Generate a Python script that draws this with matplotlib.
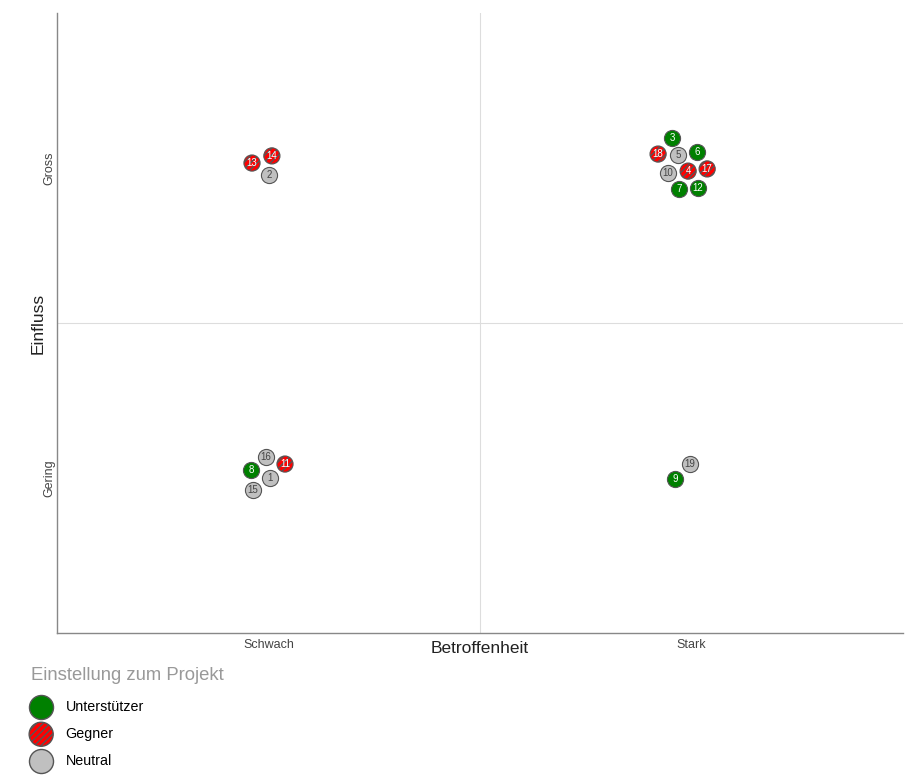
import matplotlib
matplotlib.use("Agg")
import matplotlib.pyplot as plt

plt.rcParams['font.family'] = ['Liberation Sans', 'DejaVu Sans']
plt.rcParams['hatch.color'] = 'black'
plt.rcParams['hatch.linewidth'] = 1.0

# stakeholder data (Betroffenheit: 0..2, Einfluss: 0..2)
ids = [3, 18, 5, 6, 10, 4, 17, 7, 12,
       13, 14, 2,
       16, 11, 8, 1, 15,
       19, 9]
betroffenheit = [1.454, 1.421, 1.468, 1.513, 1.444, 1.492, 1.537, 1.470, 1.515,
                 0.461, 0.508, 0.501,
                 0.494, 0.539, 0.459, 0.504, 0.463,
                 1.497, 1.461]
einfluss = [1.597, 1.545, 1.542, 1.552, 1.484, 1.490, 1.497, 1.432, 1.436,
            1.516, 1.539, 1.477,
            0.568, 0.545, 0.526, 0.500, 0.461,
            0.545, 0.497]
einstellung = ['U', 'G', 'N', 'U', 'N', 'G', 'G', 'U', 'U',
               'G', 'G', 'N',
               'N', 'G', 'U', 'N', 'N',
               'N', 'U']

groups = ['U', 'G', 'N']
group_names = ['Unterstützer', 'Gegner', 'Neutral']
x_ticks = [0.5, 1.5]
x_labels = ['Schwach', 'Stark']
y_labels = ['Gering', 'Gross']

styles = {
    'U': dict(color='#008000', hatch=None, text='white'),
    'G': dict(color='#ff0000', hatch='/////', text='white'),
    'N': dict(color='#c0c0c0', hatch=None, text='#444444'),
}


def main():
    fig = plt.figure(figsize=(9.22, 7.83), dpi=100)
    ax = fig.add_axes([57 / 922, 150 / 783, 846 / 922, 620 / 783])
    ax.set_xlim(0, 2)
    ax.set_ylim(0, 2)

    ax.axvline(1, color='#dddddd', lw=0.8, zorder=0)
    ax.axhline(1, color='#dddddd', lw=0.8, zorder=0)

    for g in groups:
        st = styles[g]
        xs = [x for x, e in zip(betroffenheit, einstellung) if e == g]
        ys = [y for y, e in zip(einfluss, einstellung) if e == g]
        ax.scatter(xs, ys, s=135, facecolor=st['color'], edgecolor='#555555',
                   linewidth=0.8, hatch=st['hatch'], zorder=3)

    for i, x, y, e in zip(ids, betroffenheit, einfluss, einstellung):
        ax.text(x, y, str(i), ha='center', va='center', fontsize=7,
                color=styles[e]['text'], zorder=4)

    for side in ['top', 'right']:
        ax.spines[side].set_visible(False)
    for side in ['left', 'bottom']:
        ax.spines[side].set_color('#888888')
        ax.spines[side].set_linewidth(1.0)

    ax.set_xticks(x_ticks)
    ax.set_xticklabels(x_labels)
    ax.set_yticks(x_ticks)
    ax.set_yticklabels(y_labels, rotation=90, va='center')
    ax.tick_params(length=0, labelsize=9, labelcolor='#444444')
    ax.tick_params(axis='x', pad=4)
    ax.tick_params(axis='y', pad=1)

    ax.set_xlabel('Betroffenheit', fontsize=12.5, color='#222222')
    ax.set_ylabel('Einfluss', fontsize=12.5, color='#222222')
    ax.xaxis.set_label_coords(0.5, -0.013)
    ax.yaxis.set_label_coords(-0.013, 0.5)

    handles = []
    for g in groups:
        st = styles[g]
        handles.append(ax.scatter([], [], s=300, facecolor=st['color'],
                                  edgecolor='#555555', linewidth=1.0,
                                  hatch=st['hatch']))
    leg = fig.legend(handles, group_names, loc='upper left',
                     bbox_to_anchor=(24 / 922, 1 - 660 / 783),
                     frameon=False, fontsize=10.3, title='Einstellung zum Projekt',
                     title_fontsize=13.3, alignment='left', scatterpoints=1,
                     handletextpad=1.0, labelspacing=0.9, borderpad=0,
                     handlelength=1.4)
    leg.get_title().set_color('#999999')
    # a bit more room between the title and the entries
    leg._legend_box.sep = 11.5

    fig.savefig('out.png', dpi=100)


if __name__ == "__main__":
    main()
